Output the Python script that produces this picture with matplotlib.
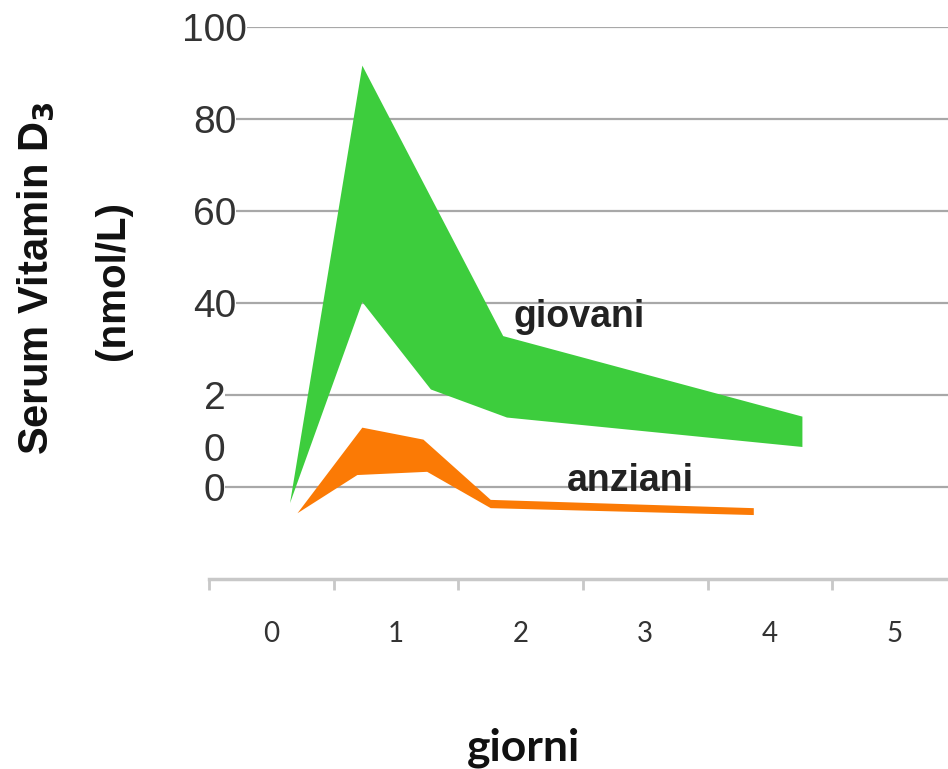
import numpy as np
import matplotlib.pyplot as plt
from matplotlib.ticker import FixedLocator

# band edges (x in day units, y in nmol/L)
giovani_top_x = [0.15, 0.73, 1.86, 4.26]
giovani_top_y = [-3.5, 91.6, 32.8, 15.3]
giovani_bot_x = [0.15, 0.73, 1.28, 1.89, 4.26]
giovani_bot_y = [-3.5, 40.2, 21.2, 15.1, 8.7]

anziani_top_x = [0.21, 0.73, 1.22, 1.76, 3.87]
anziani_top_y = [-5.7, 12.9, 10.3, -2.8, -4.6]
anziani_bot_x = [0.21, 0.69, 1.25, 1.76, 3.87]
anziani_bot_y = [-5.7, 2.6, 3.3, -4.6, -6.1]

days = [0, 1, 2, 3, 4, 5]
y_ticks = [0, 20, 40, 60, 80, 100]
y_labels = ['0', '2', '40', '60', '80', '100']

green = '#3dcd3d'
orange = '#fb7a05'

fig = plt.figure(figsize=(9.48, 7.69), dpi=100)
ax = fig.add_axes([209/948, 190/769, 748/948, 552/769])


def band(ax, tx, ty, bx, by, color):
    xs = list(tx) + list(bx[::-1])
    ys = list(ty) + list(by[::-1])
    ax.fill(xs, ys, color=color, lw=0, zorder=3)


band(ax, giovani_top_x, giovani_top_y, giovani_bot_x, giovani_bot_y, green)
band(ax, anziani_top_x, anziani_top_y, anziani_bot_x, anziani_bot_y, orange)

ax.set_xlim(-0.5, 5.5)
ax.set_ylim(-20, 100)

for s in ['top', 'right', 'left']:
    ax.spines[s].set_visible(False)
ax.spines['bottom'].set_color('#c8c8c8')
ax.spines['bottom'].set_linewidth(2.5)

# category axis: tick marks on the boundaries, labels in between
ax.xaxis.set_major_locator(FixedLocator(np.arange(-0.5, 6.0, 1.0)))
ax.xaxis.set_minor_locator(FixedLocator(days))
ax.set_xticklabels([])
ax.set_xticklabels([str(d) for d in days], minor=True)
ax.tick_params(axis='x', which='major', length=8, width=2, color='#c8c8c8')
ax.tick_params(axis='x', which='minor', length=0, pad=30,
               labelsize=20, labelcolor='#333333')
for lab in ax.get_xticklabels(minor=True):
    lab.set_family('Lato')

ax.yaxis.set_major_locator(FixedLocator(y_ticks))
ax.yaxis.set_minor_locator(FixedLocator([8.7]))
ax.set_yticklabels(y_labels)
ax.set_yticklabels(['0'], minor=True)
ax.tick_params(axis='y', which='both', length=0, pad=-4,
               labelsize=28, labelcolor='#333333')
for lab in ax.get_yticklabels() + ax.get_yticklabels(minor=True):
    lab.set_family('Liberation Sans')
    lab.set_ha('center')
    lab.set_bbox(dict(facecolor='white', edgecolor='none', pad=0))

ax.yaxis.grid(True, which='major', color='#a8a8a8', lw=1.6)
ax.set_axisbelow(True)

ax.text(2.47, 37, 'giovani', ha='center', va='center', fontsize=27,
        fontweight='bold', color='#222222', family='Liberation Sans', zorder=4)
ax.text(2.88, 1.3, 'anziani', ha='center', va='center', fontsize=27,
        fontweight='bold', color='#222222', family='Liberation Sans', zorder=1)

fig.text(37/948, 1 - 278/769, r'Serum Vitamin D$_\mathbf{3}$', rotation=90,
         ha='center', va='center', fontsize=30, fontweight='bold',
         family='Liberation Sans', color='#111111')
fig.text(113/948, 1 - 280/769, '(nmol/L)', rotation=90,
         ha='center', va='center', fontsize=29, fontweight='bold',
         family='Liberation Sans', color='#111111')
fig.text(524/948, 1 - 748/769, 'giorni', ha='center', va='center',
         fontsize=32, fontweight='bold', family='Lato', color='#111111')

fig.savefig('out.png', dpi=100)
